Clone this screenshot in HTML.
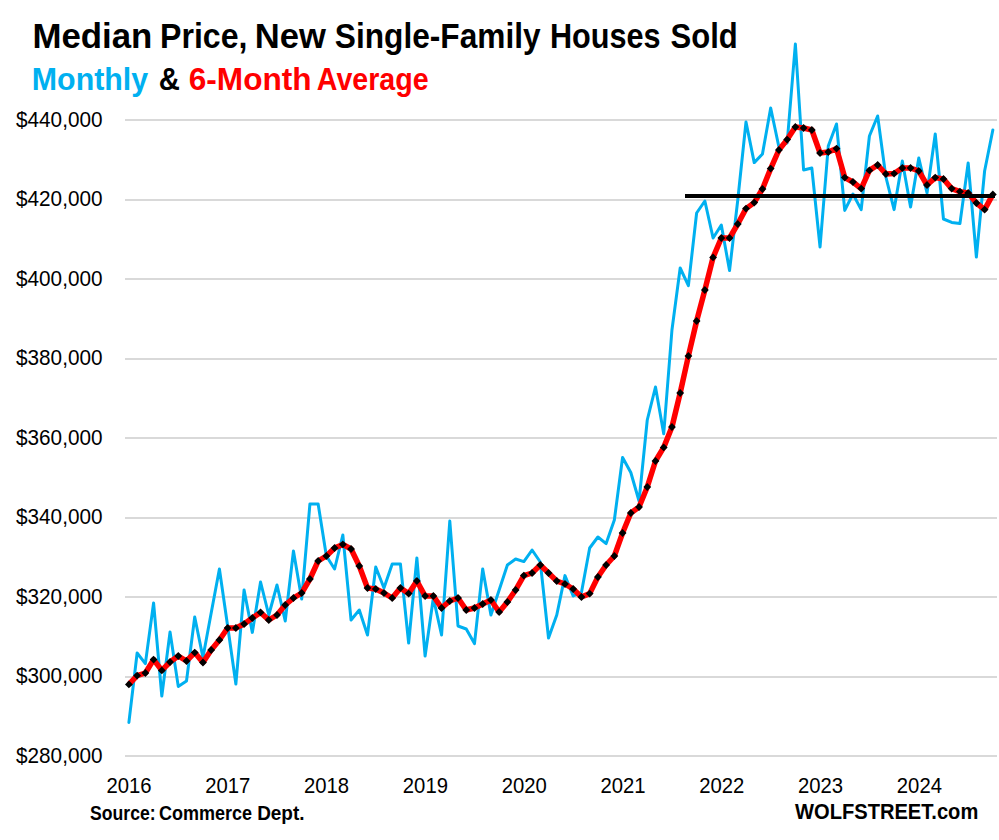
<!DOCTYPE html>
<html><head><meta charset="utf-8"><title>Median Price, New Single-Family Houses Sold</title><style>html,body{margin:0;padding:0;background:#fff;overflow:hidden;width:999px;height:840px;}
svg{display:block;}
text{font-family:"Liberation Sans",sans-serif;}
.yl{font-size:21.7px;fill:#000;}
.xl{font-size:21.2px;fill:#000;}
.t{font-size:35.5px;font-weight:bold;}
.st{font-size:31.8px;font-weight:bold;}
.src{font-size:19.9px;font-weight:bold;}
.ws{font-size:22.4px;font-weight:bold;}
</style></head><body><svg width="999" height="840" viewBox="0 0 999 840">
<rect width="999" height="840" fill="#fff"/>
<rect x="125" y="755" width="872" height="2" fill="#d9d9d9"/>
<rect x="125" y="676" width="872" height="2" fill="#d9d9d9"/>
<rect x="125" y="596" width="872" height="2" fill="#d9d9d9"/>
<rect x="125" y="517" width="872" height="2" fill="#d9d9d9"/>
<rect x="125" y="437" width="872" height="2" fill="#d9d9d9"/>
<rect x="125" y="358" width="872" height="2" fill="#d9d9d9"/>
<rect x="125" y="278" width="872" height="2" fill="#d9d9d9"/>
<rect x="125" y="199" width="872" height="2" fill="#d9d9d9"/>
<rect x="125" y="119" width="872" height="2" fill="#d9d9d9"/>
<text x="16.0" y="763" class="yl" textLength="86.5" lengthAdjust="spacingAndGlyphs">$280,000</text>
<text x="16.0" y="683" class="yl" textLength="86.5" lengthAdjust="spacingAndGlyphs">$300,000</text>
<text x="16.0" y="604" class="yl" textLength="86.5" lengthAdjust="spacingAndGlyphs">$320,000</text>
<text x="16.0" y="524" class="yl" textLength="86.5" lengthAdjust="spacingAndGlyphs">$340,000</text>
<text x="16.0" y="445" class="yl" textLength="86.5" lengthAdjust="spacingAndGlyphs">$360,000</text>
<text x="16.0" y="365" class="yl" textLength="86.5" lengthAdjust="spacingAndGlyphs">$380,000</text>
<text x="16.0" y="286" class="yl" textLength="86.5" lengthAdjust="spacingAndGlyphs">$400,000</text>
<text x="16.0" y="206" class="yl" textLength="86.5" lengthAdjust="spacingAndGlyphs">$420,000</text>
<text x="16.0" y="127" class="yl" textLength="86.5" lengthAdjust="spacingAndGlyphs">$440,000</text>
<text x="129.00" y="793" text-anchor="middle" class="xl" textLength="45.1" lengthAdjust="spacingAndGlyphs">2016</text>
<text x="227.80" y="793" text-anchor="middle" class="xl" textLength="45.1" lengthAdjust="spacingAndGlyphs">2017</text>
<text x="326.60" y="793" text-anchor="middle" class="xl" textLength="45.1" lengthAdjust="spacingAndGlyphs">2018</text>
<text x="425.40" y="793" text-anchor="middle" class="xl" textLength="45.1" lengthAdjust="spacingAndGlyphs">2019</text>
<text x="524.20" y="793" text-anchor="middle" class="xl" textLength="45.1" lengthAdjust="spacingAndGlyphs">2020</text>
<text x="623.00" y="793" text-anchor="middle" class="xl" textLength="45.1" lengthAdjust="spacingAndGlyphs">2021</text>
<text x="721.80" y="793" text-anchor="middle" class="xl" textLength="45.1" lengthAdjust="spacingAndGlyphs">2022</text>
<text x="820.60" y="793" text-anchor="middle" class="xl" textLength="45.1" lengthAdjust="spacingAndGlyphs">2023</text>
<text x="919.40" y="793" text-anchor="middle" class="xl" textLength="45.1" lengthAdjust="spacingAndGlyphs">2024</text>
<polyline points="128.90,722.40 137.13,653.00 145.36,663.60 153.58,603.00 161.81,696.00 170.04,632.00 178.27,686.40 186.50,681.00 194.72,617.00 202.95,657.50 211.18,613.00 219.41,569.00 227.64,626.00 235.86,684.00 244.09,590.00 252.32,632.40 260.55,582.00 268.78,615.00 277.00,585.00 285.23,621.00 293.46,551.00 301.69,599.00 309.92,504.00 318.14,504.00 326.37,556.00 334.60,569.00 342.83,535.00 351.06,620.00 359.28,610.00 367.51,635.00 375.74,567.00 383.97,588.00 392.20,564.00 400.42,564.00 408.65,643.00 416.88,558.00 425.11,656.00 433.34,598.00 441.56,635.00 449.79,521.00 458.02,626.00 466.25,629.00 474.48,643.60 482.70,569.00 490.93,615.00 499.16,590.00 507.39,565.00 515.62,559.00 523.84,561.60 532.07,550.00 540.30,562.00 548.53,638.00 556.76,615.00 564.98,575.60 573.21,596.00 581.44,592.40 589.67,548.00 597.90,537.00 606.12,543.60 614.35,520.00 622.58,457.50 630.81,472.50 639.04,501.00 647.26,420.00 655.49,387.00 663.72,433.75 671.95,330.00 680.18,268.00 688.40,285.60 696.63,213.00 704.86,201.00 713.09,238.00 721.32,225.00 729.54,270.60 737.77,200.00 746.00,122.00 754.23,162.60 762.46,154.00 770.68,108.00 778.91,147.00 787.14,143.00 795.37,44.00 803.60,170.00 811.82,168.00 820.05,247.00 828.28,146.00 836.51,124.00 844.74,210.40 852.96,194.00 861.19,209.60 869.42,136.00 877.65,116.00 885.88,177.00 894.10,209.60 902.33,161.00 910.56,207.00 918.79,158.00 927.02,193.00 935.24,134.00 943.47,219.00 951.70,222.40 959.93,223.60 968.16,163.00 976.38,257.00 984.61,171.00 992.84,130.00" fill="none" stroke="#00b0f0" stroke-width="3" stroke-linejoin="round" stroke-linecap="round"/>
<polyline points="128.90,684.40 137.13,675.60 145.36,673.00 153.58,659.60 161.81,670.40 170.04,662.00 178.27,656.00 186.50,661.00 194.72,652.60 202.95,662.50 211.18,650.00 219.41,640.00 227.64,628.00 235.86,628.00 244.09,624.00 252.32,618.00 260.55,612.40 268.78,620.00 277.00,615.00 285.23,605.00 293.46,598.00 301.69,593.00 309.92,579.00 318.14,561.00 326.37,556.00 334.60,548.00 342.83,544.40 351.06,549.00 359.28,566.00 367.51,588.00 375.74,589.00 383.97,593.00 392.20,598.00 400.42,588.00 408.65,593.60 416.88,581.00 425.11,596.00 433.34,596.00 441.56,608.00 449.79,601.00 458.02,598.00 466.25,610.00 474.48,608.00 482.70,604.00 490.93,600.00 499.16,612.00 507.39,602.00 515.62,590.00 523.84,575.60 532.07,573.00 540.30,565.00 548.53,573.00 556.76,581.00 564.98,584.00 573.21,589.00 581.44,597.00 589.67,593.60 597.90,577.00 606.12,565.00 614.35,556.00 622.58,533.00 630.81,513.00 639.04,507.00 647.26,487.00 655.49,461.00 663.72,447.40 671.95,427.00 680.18,393.00 688.40,356.00 696.63,321.00 704.86,290.00 713.09,257.40 721.32,238.00 729.54,238.00 737.77,224.00 746.00,208.60 754.23,202.60 762.46,189.00 770.68,168.60 778.91,150.00 787.14,139.60 795.37,127.00 803.60,128.00 811.82,130.00 820.05,153.00 828.28,152.00 836.51,148.60 844.74,177.60 852.96,182.00 861.19,188.60 869.42,170.40 877.65,165.00 885.88,174.00 894.10,173.60 902.33,168.00 910.56,168.00 918.79,171.00 927.02,185.00 935.24,177.60 943.47,179.00 951.70,188.60 959.93,191.60 968.16,193.00 976.38,203.00 984.61,209.60 992.84,194.40" fill="none" stroke="#ff0000" stroke-width="5.5" stroke-linejoin="round"/>
<path d="M128.90 680.50L132.80 684.40L128.90 688.30L125.00 684.40Z"/>
<path d="M137.13 671.70L141.03 675.60L137.13 679.50L133.23 675.60Z"/>
<path d="M145.36 669.10L149.26 673.00L145.36 676.90L141.46 673.00Z"/>
<path d="M153.58 655.70L157.48 659.60L153.58 663.50L149.68 659.60Z"/>
<path d="M161.81 666.50L165.71 670.40L161.81 674.30L157.91 670.40Z"/>
<path d="M170.04 658.10L173.94 662.00L170.04 665.90L166.14 662.00Z"/>
<path d="M178.27 652.10L182.17 656.00L178.27 659.90L174.37 656.00Z"/>
<path d="M186.50 657.10L190.40 661.00L186.50 664.90L182.60 661.00Z"/>
<path d="M194.72 648.70L198.62 652.60L194.72 656.50L190.82 652.60Z"/>
<path d="M202.95 658.60L206.85 662.50L202.95 666.40L199.05 662.50Z"/>
<path d="M211.18 646.10L215.08 650.00L211.18 653.90L207.28 650.00Z"/>
<path d="M219.41 636.10L223.31 640.00L219.41 643.90L215.51 640.00Z"/>
<path d="M227.64 624.10L231.54 628.00L227.64 631.90L223.74 628.00Z"/>
<path d="M235.86 624.10L239.76 628.00L235.86 631.90L231.96 628.00Z"/>
<path d="M244.09 620.10L247.99 624.00L244.09 627.90L240.19 624.00Z"/>
<path d="M252.32 614.10L256.22 618.00L252.32 621.90L248.42 618.00Z"/>
<path d="M260.55 608.50L264.45 612.40L260.55 616.30L256.65 612.40Z"/>
<path d="M268.78 616.10L272.68 620.00L268.78 623.90L264.88 620.00Z"/>
<path d="M277.00 611.10L280.90 615.00L277.00 618.90L273.10 615.00Z"/>
<path d="M285.23 601.10L289.13 605.00L285.23 608.90L281.33 605.00Z"/>
<path d="M293.46 594.10L297.36 598.00L293.46 601.90L289.56 598.00Z"/>
<path d="M301.69 589.10L305.59 593.00L301.69 596.90L297.79 593.00Z"/>
<path d="M309.92 575.10L313.82 579.00L309.92 582.90L306.02 579.00Z"/>
<path d="M318.14 557.10L322.04 561.00L318.14 564.90L314.24 561.00Z"/>
<path d="M326.37 552.10L330.27 556.00L326.37 559.90L322.47 556.00Z"/>
<path d="M334.60 544.10L338.50 548.00L334.60 551.90L330.70 548.00Z"/>
<path d="M342.83 540.50L346.73 544.40L342.83 548.30L338.93 544.40Z"/>
<path d="M351.06 545.10L354.96 549.00L351.06 552.90L347.16 549.00Z"/>
<path d="M359.28 562.10L363.18 566.00L359.28 569.90L355.38 566.00Z"/>
<path d="M367.51 584.10L371.41 588.00L367.51 591.90L363.61 588.00Z"/>
<path d="M375.74 585.10L379.64 589.00L375.74 592.90L371.84 589.00Z"/>
<path d="M383.97 589.10L387.87 593.00L383.97 596.90L380.07 593.00Z"/>
<path d="M392.20 594.10L396.10 598.00L392.20 601.90L388.30 598.00Z"/>
<path d="M400.42 584.10L404.32 588.00L400.42 591.90L396.52 588.00Z"/>
<path d="M408.65 589.70L412.55 593.60L408.65 597.50L404.75 593.60Z"/>
<path d="M416.88 577.10L420.78 581.00L416.88 584.90L412.98 581.00Z"/>
<path d="M425.11 592.10L429.01 596.00L425.11 599.90L421.21 596.00Z"/>
<path d="M433.34 592.10L437.24 596.00L433.34 599.90L429.44 596.00Z"/>
<path d="M441.56 604.10L445.46 608.00L441.56 611.90L437.66 608.00Z"/>
<path d="M449.79 597.10L453.69 601.00L449.79 604.90L445.89 601.00Z"/>
<path d="M458.02 594.10L461.92 598.00L458.02 601.90L454.12 598.00Z"/>
<path d="M466.25 606.10L470.15 610.00L466.25 613.90L462.35 610.00Z"/>
<path d="M474.48 604.10L478.38 608.00L474.48 611.90L470.58 608.00Z"/>
<path d="M482.70 600.10L486.60 604.00L482.70 607.90L478.80 604.00Z"/>
<path d="M490.93 596.10L494.83 600.00L490.93 603.90L487.03 600.00Z"/>
<path d="M499.16 608.10L503.06 612.00L499.16 615.90L495.26 612.00Z"/>
<path d="M507.39 598.10L511.29 602.00L507.39 605.90L503.49 602.00Z"/>
<path d="M515.62 586.10L519.52 590.00L515.62 593.90L511.72 590.00Z"/>
<path d="M523.84 571.70L527.74 575.60L523.84 579.50L519.94 575.60Z"/>
<path d="M532.07 569.10L535.97 573.00L532.07 576.90L528.17 573.00Z"/>
<path d="M540.30 561.10L544.20 565.00L540.30 568.90L536.40 565.00Z"/>
<path d="M548.53 569.10L552.43 573.00L548.53 576.90L544.63 573.00Z"/>
<path d="M556.76 577.10L560.66 581.00L556.76 584.90L552.86 581.00Z"/>
<path d="M564.98 580.10L568.88 584.00L564.98 587.90L561.08 584.00Z"/>
<path d="M573.21 585.10L577.11 589.00L573.21 592.90L569.31 589.00Z"/>
<path d="M581.44 593.10L585.34 597.00L581.44 600.90L577.54 597.00Z"/>
<path d="M589.67 589.70L593.57 593.60L589.67 597.50L585.77 593.60Z"/>
<path d="M597.90 573.10L601.80 577.00L597.90 580.90L594.00 577.00Z"/>
<path d="M606.12 561.10L610.02 565.00L606.12 568.90L602.22 565.00Z"/>
<path d="M614.35 552.10L618.25 556.00L614.35 559.90L610.45 556.00Z"/>
<path d="M622.58 529.10L626.48 533.00L622.58 536.90L618.68 533.00Z"/>
<path d="M630.81 509.10L634.71 513.00L630.81 516.90L626.91 513.00Z"/>
<path d="M639.04 503.10L642.94 507.00L639.04 510.90L635.14 507.00Z"/>
<path d="M647.26 483.10L651.16 487.00L647.26 490.90L643.36 487.00Z"/>
<path d="M655.49 457.10L659.39 461.00L655.49 464.90L651.59 461.00Z"/>
<path d="M663.72 443.50L667.62 447.40L663.72 451.30L659.82 447.40Z"/>
<path d="M671.95 423.10L675.85 427.00L671.95 430.90L668.05 427.00Z"/>
<path d="M680.18 389.10L684.08 393.00L680.18 396.90L676.28 393.00Z"/>
<path d="M688.40 352.10L692.30 356.00L688.40 359.90L684.50 356.00Z"/>
<path d="M696.63 317.10L700.53 321.00L696.63 324.90L692.73 321.00Z"/>
<path d="M704.86 286.10L708.76 290.00L704.86 293.90L700.96 290.00Z"/>
<path d="M713.09 253.50L716.99 257.40L713.09 261.30L709.19 257.40Z"/>
<path d="M721.32 234.10L725.22 238.00L721.32 241.90L717.42 238.00Z"/>
<path d="M729.54 234.10L733.44 238.00L729.54 241.90L725.64 238.00Z"/>
<path d="M737.77 220.10L741.67 224.00L737.77 227.90L733.87 224.00Z"/>
<path d="M746.00 204.70L749.90 208.60L746.00 212.50L742.10 208.60Z"/>
<path d="M754.23 198.70L758.13 202.60L754.23 206.50L750.33 202.60Z"/>
<path d="M762.46 185.10L766.36 189.00L762.46 192.90L758.56 189.00Z"/>
<path d="M770.68 164.70L774.58 168.60L770.68 172.50L766.78 168.60Z"/>
<path d="M778.91 146.10L782.81 150.00L778.91 153.90L775.01 150.00Z"/>
<path d="M787.14 135.70L791.04 139.60L787.14 143.50L783.24 139.60Z"/>
<path d="M795.37 123.10L799.27 127.00L795.37 130.90L791.47 127.00Z"/>
<path d="M803.60 124.10L807.50 128.00L803.60 131.90L799.70 128.00Z"/>
<path d="M811.82 126.10L815.72 130.00L811.82 133.90L807.92 130.00Z"/>
<path d="M820.05 149.10L823.95 153.00L820.05 156.90L816.15 153.00Z"/>
<path d="M828.28 148.10L832.18 152.00L828.28 155.90L824.38 152.00Z"/>
<path d="M836.51 144.70L840.41 148.60L836.51 152.50L832.61 148.60Z"/>
<path d="M844.74 173.70L848.64 177.60L844.74 181.50L840.84 177.60Z"/>
<path d="M852.96 178.10L856.86 182.00L852.96 185.90L849.06 182.00Z"/>
<path d="M861.19 184.70L865.09 188.60L861.19 192.50L857.29 188.60Z"/>
<path d="M869.42 166.50L873.32 170.40L869.42 174.30L865.52 170.40Z"/>
<path d="M877.65 161.10L881.55 165.00L877.65 168.90L873.75 165.00Z"/>
<path d="M885.88 170.10L889.78 174.00L885.88 177.90L881.98 174.00Z"/>
<path d="M894.10 169.70L898.00 173.60L894.10 177.50L890.20 173.60Z"/>
<path d="M902.33 164.10L906.23 168.00L902.33 171.90L898.43 168.00Z"/>
<path d="M910.56 164.10L914.46 168.00L910.56 171.90L906.66 168.00Z"/>
<path d="M918.79 167.10L922.69 171.00L918.79 174.90L914.89 171.00Z"/>
<path d="M927.02 181.10L930.92 185.00L927.02 188.90L923.12 185.00Z"/>
<path d="M935.24 173.70L939.14 177.60L935.24 181.50L931.34 177.60Z"/>
<path d="M943.47 175.10L947.37 179.00L943.47 182.90L939.57 179.00Z"/>
<path d="M951.70 184.70L955.60 188.60L951.70 192.50L947.80 188.60Z"/>
<path d="M959.93 187.70L963.83 191.60L959.93 195.50L956.03 191.60Z"/>
<path d="M968.16 189.10L972.06 193.00L968.16 196.90L964.26 193.00Z"/>
<path d="M976.38 199.10L980.28 203.00L976.38 206.90L972.48 203.00Z"/>
<path d="M984.61 205.70L988.51 209.60L984.61 213.50L980.71 209.60Z"/>
<path d="M992.84 190.50L996.74 194.40L992.84 198.30L988.94 194.40Z"/>
<rect x="685" y="194" width="310" height="4" fill="#000"/>
<text x="32.45" y="47.7" class="t" fill="#000" textLength="119.90" lengthAdjust="spacingAndGlyphs">Median</text>
<text x="160.05" y="47.7" class="t" fill="#000" textLength="87.35" lengthAdjust="spacingAndGlyphs">Price,</text>
<text x="254.70" y="47.7" class="t" fill="#000" textLength="71.10" lengthAdjust="spacingAndGlyphs">New</text>
<text x="334.80" y="47.7" class="t" fill="#000" textLength="205.90" lengthAdjust="spacingAndGlyphs">Single-Family</text>
<text x="549.90" y="47.7" class="t" fill="#000" textLength="110.65" lengthAdjust="spacingAndGlyphs">Houses</text>
<text x="670.60" y="47.7" class="t" fill="#000" textLength="67.20" lengthAdjust="spacingAndGlyphs">Sold</text>
<text x="31.85" y="89.6" class="st" fill="#00b0f0" textLength="116.25" lengthAdjust="spacingAndGlyphs">Monthly</text>
<text x="158.75" y="89.6" class="st" fill="#000" textLength="21.15" lengthAdjust="spacingAndGlyphs">&amp;</text>
<text x="188.75" y="89.6" class="st" fill="#ff0000" textLength="122.80" lengthAdjust="spacingAndGlyphs">6-Month</text>
<text x="316.80" y="89.6" class="st" fill="#ff0000" textLength="111.80" lengthAdjust="spacingAndGlyphs">Average</text>
<text x="90.10" y="820" class="src" fill="#000" textLength="65.50" lengthAdjust="spacingAndGlyphs">Source:</text>
<text x="159.05" y="820" class="src" fill="#000" textLength="93.10" lengthAdjust="spacingAndGlyphs">Commerce</text>
<text x="257.15" y="820" class="src" fill="#000" textLength="47.40" lengthAdjust="spacingAndGlyphs">Dept.</text>
<text x="795.00" y="819.4" class="ws" fill="#000" textLength="183.30" lengthAdjust="spacingAndGlyphs">WOLFSTREET.com</text>
</svg></body></html>
